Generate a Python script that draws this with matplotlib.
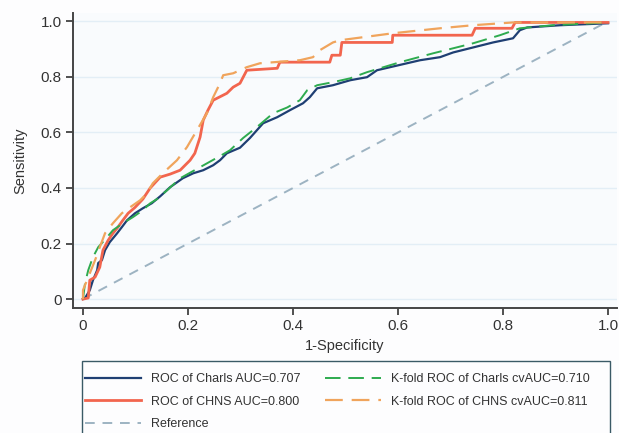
import numpy as np
import matplotlib
matplotlib.use("Agg")
import matplotlib.pyplot as plt
from matplotlib.lines import Line2D
from matplotlib.patches import Rectangle

plt.rcParams['font.family'] = ['Liberation Sans', 'DejaVu Sans']

# ROC of Charls
charls_fpr = [0, 0.004, 0.013, 0.019, 0.027, 0.029, 0.036, 0.042, 0.051, 0.065, 0.074, 0.084,
              0.099, 0.114, 0.131, 0.147, 0.166, 0.19, 0.21, 0.229, 0.248, 0.261, 0.274, 0.299,
              0.318, 0.343, 0.37, 0.394, 0.419, 0.432, 0.446, 0.476, 0.509, 0.541, 0.56, 0.585,
              0.617, 0.642, 0.68, 0.705, 0.743, 0.781, 0.819, 0.832, 0.846, 0.909, 1.0]
charls_tpr = [0, 0.004, 0.032, 0.068, 0.104, 0.13, 0.14, 0.176, 0.205, 0.237, 0.259, 0.284,
              0.309, 0.327, 0.345, 0.37, 0.403, 0.435, 0.453, 0.464, 0.482, 0.5, 0.525, 0.545,
              0.58, 0.633, 0.655, 0.68, 0.705, 0.727, 0.759, 0.77, 0.788, 0.799, 0.824, 0.835,
              0.849, 0.86, 0.871, 0.888, 0.906, 0.924, 0.939, 0.968, 0.978, 0.986, 0.993]

# ROC of CHNS
chns_fpr = [0, 0.01, 0.013, 0.023, 0.032, 0.038, 0.048, 0.057, 0.065, 0.076, 0.086, 0.099,
            0.114, 0.128, 0.147, 0.166, 0.185, 0.204, 0.213, 0.223, 0.229, 0.238, 0.248, 0.274,
            0.286, 0.299, 0.312, 0.37, 0.375, 0.47, 0.474, 0.49, 0.493, 0.589, 0.59, 0.741,
            0.747, 0.817, 0.823, 1.0]
chns_tpr = [0, 0.004, 0.068, 0.079, 0.115, 0.176, 0.212, 0.237, 0.255, 0.284, 0.309, 0.33,
            0.36, 0.40, 0.439, 0.45, 0.464, 0.5, 0.525, 0.583, 0.644, 0.68, 0.716, 0.741,
            0.763, 0.777, 0.824, 0.831, 0.853, 0.853, 0.878, 0.878, 0.924, 0.924, 0.95, 0.95,
            0.975, 0.975, 0.996, 0.996]

# K-fold ROC of Charls
kf_charls_fpr = [0, 0.004, 0.01, 0.019, 0.029, 0.046, 0.057, 0.076, 0.095, 0.114, 0.128, 0.141,
                 0.162, 0.185, 0.223, 0.261, 0.28, 0.305, 0.331, 0.362, 0.389, 0.413, 0.427,
                 0.446, 0.476, 0.509, 0.541, 0.604, 0.667, 0.743, 0.794, 0.832, 0.895, 1.0]
kf_charls_tpr = [0, 0.058, 0.104, 0.151, 0.187, 0.223, 0.248, 0.273, 0.295, 0.32, 0.345, 0.36,
                 0.395, 0.435, 0.475, 0.515, 0.536, 0.58, 0.619, 0.669, 0.69, 0.716, 0.752,
                 0.77, 0.781, 0.795, 0.817, 0.853, 0.885, 0.921, 0.95, 0.975, 0.986, 0.996]

# K-fold ROC of CHNS
kf_chns_fpr = [0, 0.0, 0.01, 0.023, 0.032, 0.042, 0.057, 0.074, 0.09, 0.109, 0.122, 0.133,
               0.152, 0.179, 0.198, 0.217, 0.236, 0.248, 0.261, 0.267, 0.286, 0.312, 0.337,
               0.413, 0.438, 0.451, 0.476, 0.49, 0.59, 0.68, 0.743, 0.819, 1.0]
kf_chns_tpr = [0, 0.032, 0.079, 0.14, 0.187, 0.237, 0.273, 0.309, 0.331, 0.356, 0.381, 0.417,
               0.453, 0.5, 0.547, 0.608, 0.669, 0.727, 0.777, 0.806, 0.813, 0.835, 0.849,
               0.86, 0.871, 0.896, 0.924, 0.932, 0.957, 0.975, 0.986, 0.996, 0.996]

labels = ["ROC of Charls AUC=0.707", "ROC of CHNS AUC=0.800", "Reference",
          "K-fold ROC of Charls cvAUC=0.710", "K-fold ROC of CHNS cvAUC=0.811"]

W, H = 619, 433
fig = plt.figure(figsize=(W/100, H/100), dpi=100, facecolor='#fdfdfe')
ax = fig.add_axes([73/W, 1-308/H, (617-73)/W, (308-13)/H])
ax.set_facecolor('#f9fbfd')

c_blue = '#1f3f73'
c_red = '#f2654e'
c_green = '#2eab4f'
c_orange = '#f0a45c'
c_ref = '#9db3c2'

ax.plot([0, 1], [0, 1], color=c_ref, lw=1.4, dashes=(5, 4), zorder=2)
ax.plot(charls_fpr, charls_tpr, color=c_blue, lw=1.6, zorder=3)
ax.plot(kf_charls_fpr, kf_charls_tpr, color=c_green, lw=1.4, dashes=(8, 4), zorder=4)
ax.plot(chns_fpr, chns_tpr, color=c_red, lw=2.0, zorder=3)
ax.plot(kf_chns_fpr, kf_chns_tpr, color=c_orange, lw=1.6, dashes=(8, 4), zorder=4)

ax.set_xlim(-0.019, 1.017)
ax.set_ylim(-0.032, 1.03)
ticks = [0, 0.2, 0.4, 0.6, 0.8, 1.0]
ticklabels = ['0', '0.2', '0.4', '0.6', '0.8', '1.0']
ax.set_xticks(ticks)
ax.set_xticklabels(ticklabels)
ax.set_yticks(ticks)
ax.set_yticklabels(ticklabels)
ax.tick_params(labelsize=11, colors='#333333', length=5, width=1.2, pad=3)
ax.yaxis.grid(True, color='#e3eef6', lw=1)
ax.set_axisbelow(True)
for s in ['top', 'right']:
    ax.spines[s].set_visible(False)
for s in ['left', 'bottom']:
    ax.spines[s].set_color('#444444')
    ax.spines[s].set_linewidth(1.4)

ax.set_ylabel('Sensitivity', fontsize=10.5, color='#333333', labelpad=10)
ax.set_xlabel('1-Specificity', fontsize=10.5, color='#333333', labelpad=4)

handles = [Line2D([], [], color=c_blue, lw=1.6),
           Line2D([], [], color=c_red, lw=2.0),
           Line2D([], [], color=c_ref, lw=1.4, dashes=(5, 4)),
           Line2D([], [], color=c_green, lw=1.4, dashes=(8, 4)),
           Line2D([], [], color=c_orange, lw=1.6, dashes=(8, 4))]
leg = fig.legend(handles, labels, ncol=2, loc='upper left',
                 bbox_to_anchor=(85/W, 1-373/H), frameon=False,
                 fontsize=9, handlelength=4.5, handletextpad=0.8, columnspacing=1.9,
                 borderpad=0, labelspacing=0.85, borderaxespad=0)
for t in leg.get_texts():
    t.set_color('#333333')

# legend frame, top edge at y=361 px, runs past the bottom of the figure
fig.patches.append(Rectangle((82/W, -10/H), (610-82)/W, (H-361+10)/H, transform=fig.transFigure,
                             fill=False, edgecolor='#3a5a66', lw=1.0, zorder=0))

fig.savefig('out.png', dpi=100, facecolor=fig.get_facecolor())
